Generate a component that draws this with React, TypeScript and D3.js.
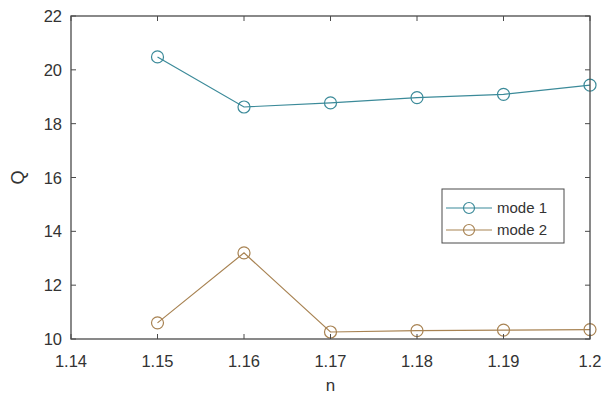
import React from "react";
import * as d3 from "d3";

const nValues = [1.15, 1.16, 1.17, 1.18, 1.19, 1.2];
const mode1Q = [20.48, 18.62, 18.77, 18.97, 19.09, 19.43];
const mode2Q = [10.6, 13.2, 10.26, 10.31, 10.33, 10.35];
const xTicks = [1.14, 1.15, 1.16, 1.17, 1.18, 1.19, 1.2];
const yTicks = [10, 12, 14, 16, 18, 20, 22];
const seriesNames = ["mode 1", "mode 2"];
const seriesColors = ["#3b8a99", "#a88353"];

const W = 603;
const H = 396;
const M = { left: 71, right: 13, top: 16, bottom: 57 };
const FONT = "'Liberation Sans', Arial, sans-serif";
const AXIS = "#4a4a4a";
const TEXT = "#333";

export default function App() {
  const x = d3.scaleLinear().domain([1.14, 1.2]).range([M.left, W - M.right]);
  const y = d3.scaleLinear().domain([10, 22]).range([H - M.bottom, M.top]);
  const line = d3
    .line<[number, number]>()
    .x((d) => x(d[0]))
    .y((d) => y(d[1]));
  const series = [mode1Q, mode2Q].map((vals) =>
    nValues.map((n, i) => [n, vals[i]] as [number, number])
  );
  const x0 = M.left;
  const x1 = W - M.right;
  const y0 = H - M.bottom;
  const y1 = M.top;
  const tick = 5;
  const fmtX = (v: number) => (v === 1.2 ? "1.2" : v.toFixed(2));

  const legX = 442;
  const legY = 189;
  const legW = 122;
  const legH = 54;

  return (
    <svg
      width={W}
      height={H}
      style={{ position: "absolute", left: 0, top: 0, background: "#fff" }}
    >
      <rect x={x0} y={y1} width={x1 - x0} height={y0 - y1} fill="#fff" />
      {series.map((pts, si) => (
        <g key={si}>
          <path d={line(pts) ?? ""} fill="none" stroke={seriesColors[si]} strokeWidth={1.2} />
          {pts.map((p, i) => (
            <circle
              key={i}
              cx={x(p[0])}
              cy={y(p[1])}
              r={6}
              fill="none"
              stroke={seriesColors[si]}
              strokeWidth={1.2}
            />
          ))}
        </g>
      ))}
      {/* axes box */}
      <rect x={x0} y={y1} width={x1 - x0} height={y0 - y1} fill="none" stroke={AXIS} strokeWidth={1.3} />
      {xTicks.map((t) => (
        <g key={t}>
          <line x1={x(t)} x2={x(t)} y1={y0} y2={y0 - tick} stroke={AXIS} />
          <line x1={x(t)} x2={x(t)} y1={y1} y2={y1 + tick} stroke={AXIS} />
          <text
            x={x(t)}
            y={y0 + 28}
            textAnchor="middle"
            fontFamily={FONT}
            fontSize={16.5}
            fill={TEXT}
          >
            {fmtX(t)}
          </text>
        </g>
      ))}
      {yTicks.map((t) => (
        <g key={t}>
          <line x1={x0} x2={x0 + tick} y1={y(t)} y2={y(t)} stroke={AXIS} />
          <line x1={x1} x2={x1 - tick} y1={y(t)} y2={y(t)} stroke={AXIS} />
          <text
            x={x0 - 9}
            y={y(t) + 6}
            textAnchor="end"
            fontFamily={FONT}
            fontSize={16.5}
            fill={TEXT}
          >
            {t}
          </text>
        </g>
      ))}
      <text
        x={(x0 + x1) / 2}
        y={H - 5}
        textAnchor="middle"
        fontFamily={FONT}
        fontSize={17}
        fill={TEXT}
      >
        n
      </text>
      <text
        transform={`translate(24,${(y0 + y1) / 2}) rotate(-90)`}
        textAnchor="middle"
        fontFamily={FONT}
        fontSize={18}
        fill={TEXT}
      >
        Q
      </text>
      {/* legend */}
      <rect x={legX} y={legY} width={legW} height={legH} fill="#fff" stroke={AXIS} strokeWidth={1} />
      {seriesNames.map((name, i) => {
        const cy = legY + 19 + i * 22;
        return (
          <g key={name}>
            <line x1={legX + 4} x2={legX + 50} y1={cy} y2={cy} stroke={seriesColors[i]} strokeWidth={1.2} />
            <circle cx={legX + 27} cy={cy} r={5.5} fill="none" stroke={seriesColors[i]} strokeWidth={1.2} />
            <text x={legX + 55} y={cy + 5} fontFamily={FONT} fontSize={15} fill={TEXT}>
              {name}
            </text>
          </g>
        );
      })}
    </svg>
  );
}
